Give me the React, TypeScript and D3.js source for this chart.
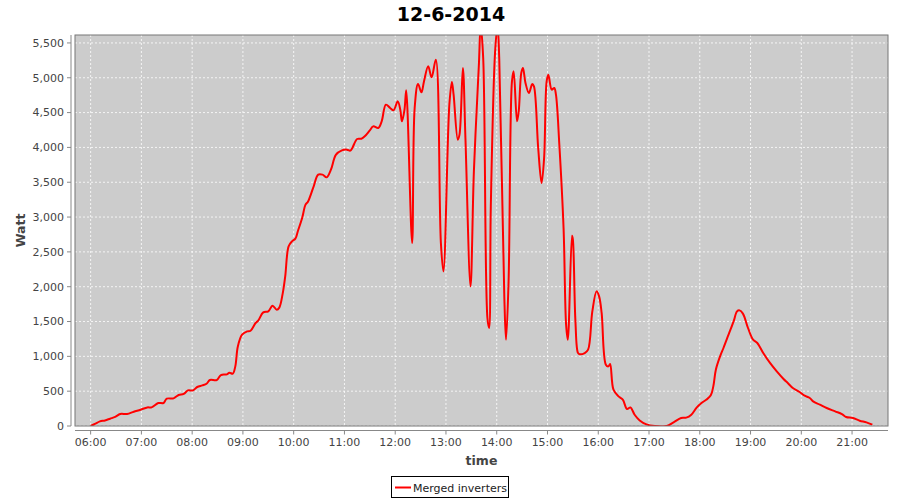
import React from "react";
import * as d3 from "d3";

const TITLE = "12-6-2014";
const SERIES_NAME = "Merged inverters";
const X_LABEL = "time";
const Y_LABEL = "Watt";

const times: string[] = [
  "06:00","06:05","06:11","06:17","06:23","06:29","06:35","06:43","06:51","06:59",
  "07:07","07:12","07:20","07:26","07:30","07:38","07:44","07:50","07:55","08:01",
  "08:06","08:12","08:17","08:21","08:29","08:34","08:41","08:44","08:48","08:51",
  "08:54","08:59","09:05","09:09","09:15","09:18","09:24","09:30","09:35","09:40",
  "09:43","09:47","09:50","09:54","09:58","10:02","10:05","10:10","10:14","10:17",
  "10:23","10:29","10:34","10:39","10:44","10:50","10:57","11:03","11:07","11:15",
  "11:20","11:24","11:30","11:34","11:40","11:44","11:49","11:54","11:58","12:03",
  "12:06","12:08","12:11","12:13","12:20","12:23","12:27","12:31","12:34","12:39",
  "12:43","12:48","12:54","12:57","13:04","13:07","13:09","13:14","13:16","13:20",
  "13:23","13:29","13:33","13:39","13:41","13:44","13:49","13:51","13:53","13:58",
  "14:01","14:03","14:09","14:11","14:14","14:18","14:20","14:24","14:26","14:29",
  "14:31","14:34","14:38","14:42","14:44","14:49","14:53","14:56","14:59","15:01",
  "15:05","15:08","15:10","15:14","15:19","15:22","15:24","15:29","15:30","15:33",
  "15:36","15:38","15:44","15:48","15:53","15:58","16:01","16:04","16:09","16:12",
  "16:14","16:18","16:24","16:29","16:34","16:38","16:43","16:49","16:57","17:07",
  "17:21","17:29","17:38","17:44","17:50","17:56","18:02","18:08","18:13","18:16",
  "18:19","18:24","18:28","18:34","18:40","18:44","18:47","18:51","18:57","19:03",
  "19:08","19:15","19:23","19:31","19:39","19:44","19:50","19:58","20:04","20:10",
  "20:14","20:22","20:30","20:40","20:48","20:53","21:01","21:09","21:17","21:24"
];

const watts: number[] = [
  0,30,66,80,105,130,172,172,205,234,
  267,267,330,330,392,397,445,460,511,511,
  560,583,607,660,660,732,741,765,751,856,
  1143,1311,1358,1368,1479,1512,1631,1646,1728,1670,
  1700,1900,2148,2579,2651,2690,2800,2987,3178,3225,
  3418,3609,3609,3570,3680,3896,3958,3968,3953,4121,
  4125,4159,4245,4302,4279,4374,4614,4566,4532,4661,
  4542,4374,4542,4820,2628,4566,4911,4791,4948,5164,
  5006,5260,2628,2220,4614,4940,4760,4111,4183,5141,
  4136,2005,3656,5213,5750,5284,1551,1407,3153,5356,
  5750,5260,1838,1239,2076,4948,5092,4374,4517,5069,
  5141,4925,4782,4911,4877,3992,3489,3848,4948,5044,
  4829,4853,4757,4039,2843,1455,1239,2733,2680,1510,
  1050,1030,1048,1096,1646,1933,1861,1623,880,856,
  890,521,425,378,244,267,162,80,23,0,
  0,52,115,120,162,260,330,380,440,569,
  808,1000,1120,1311,1502,1646,1660,1613,1407,1239,
  1192,1048,905,784,675,617,546,488,435,402,
  353,306,258,210,172,129,115,76,52,19
];

const yTicks: number[] = [0,500,1000,1500,2000,2500,3000,3500,4000,4500,5000,5500];
const xTickLabels: string[] = ["06:00","07:00","08:00","09:00","10:00","11:00","12:00","13:00","14:00","15:00","16:00","17:00","18:00","19:00","20:00","21:00"];

const W = 900, H = 500;
const PL = 75, PR = 888, PT = 35, PB = 426;

export default function App() {
  const parse = d3.timeParse("%H:%M");
  const data = times.map((t, i) => ({ t: parse(t) as Date, v: watts[i] }));
  const t0 = data[0].t.getTime();
  const t1 = data[data.length - 1].t.getTime();
  const span = t1 - t0;
  const x = d3.scaleTime()
    .domain([new Date(t0 - span * 0.02), new Date(t1 + span * 0.02)])
    .range([PL, PR]);
  const y = d3.scaleLinear().domain([0, 5614]).range([PB, PT]);
  const line = d3.line<{ t: Date; v: number }>()
    .x(d => x(d.t))
    .y(d => y(d.v))
    .curve(d3.curveCatmullRom.alpha(0.5));
  const xTicks = xTickLabels.map(s => parse(s) as Date);
  const font = "'DejaVu Sans', sans-serif";
  const gridColor = "#ffffff";
  const axisGray = "#888888";

  return (
    <svg width={W} height={H} style={{ position: "absolute", left: 0, top: 0, background: "#fff" }}>
      <defs>
        <clipPath id="plotclip">
          <rect x={PL} y={PT} width={PR - PL} height={PB - PT} />
        </clipPath>
      </defs>
      <rect x={0} y={0} width={W} height={H} fill="#fff" />
      <text x={451} y={21} textAnchor="middle" fontFamily={font} fontWeight="bold" fontSize={19} fill="#000">{TITLE}</text>
      <rect x={PL} y={PT} width={PR - PL} height={PB - PT} fill="#cccccc" />
      {yTicks.map(v => (
        <line key={"gy" + v} x1={PL} x2={PR} y1={y(v)} y2={y(v)} stroke={gridColor} strokeWidth={0.8} strokeDasharray="2,2" />
      ))}
      {xTicks.map((d, i) => (
        <line key={"gx" + i} x1={x(d)} x2={x(d)} y1={PT} y2={PB} stroke={gridColor} strokeWidth={0.8} strokeDasharray="2,2" />
      ))}
      <path d={line(data) || ""} fill="none" stroke="#ff0000" strokeWidth={2} clipPath="url(#plotclip)" strokeLinejoin="round" />
      <rect x={PL} y={PT} width={PR - PL} height={PB - PT} fill="none" stroke="#777777" strokeWidth={1} />
      {/* Y axis */}
      <line x1={71} x2={71} y1={PT} y2={PB} stroke={axisGray} strokeWidth={1} />
      {yTicks.map(v => (
        <g key={"yt" + v}>
          <line x1={67} x2={71} y1={y(v)} y2={y(v)} stroke={axisGray} strokeWidth={1} />
          <text x={64} y={y(v)} dy="0.35em" textAnchor="end" fontFamily={font} fontSize={11} fill="#444">{d3.format(",")(v)}</text>
        </g>
      ))}
      {/* X axis */}
      <line x1={PL} x2={PR} y1={430.5} y2={430.5} stroke={axisGray} strokeWidth={1} />
      {xTicks.map((d, i) => (
        <g key={"xt" + i}>
          <line x1={x(d)} x2={x(d)} y1={430.5} y2={434.5} stroke={axisGray} strokeWidth={1} />
          <text x={x(d)} y={446} textAnchor="middle" fontFamily={font} fontSize={11} fill="#444">{xTickLabels[i]}</text>
        </g>
      ))}
      <text x={(PL + PR) / 2} y={465} textAnchor="middle" fontFamily={font} fontWeight="bold" fontSize={12.5} fill="#444">{X_LABEL}</text>
      <text transform={`translate(25,${(PT + PB) / 2}) rotate(-90)`} textAnchor="middle" fontFamily={font} fontWeight="bold" fontSize={12.5} fill="#444">{Y_LABEL}</text>
      {/* Legend */}
      <rect x={391.5} y={476.5} width={117} height={21} fill="#fff" stroke="#000" strokeWidth={1} />
      <line x1={395} x2={411} y1={487.5} y2={487.5} stroke="#ff0000" strokeWidth={2} />
      <text x={413} y={491.5} fontFamily={font} fontSize={11} fill="#222">{SERIES_NAME}</text>
    </svg>
  );
}
